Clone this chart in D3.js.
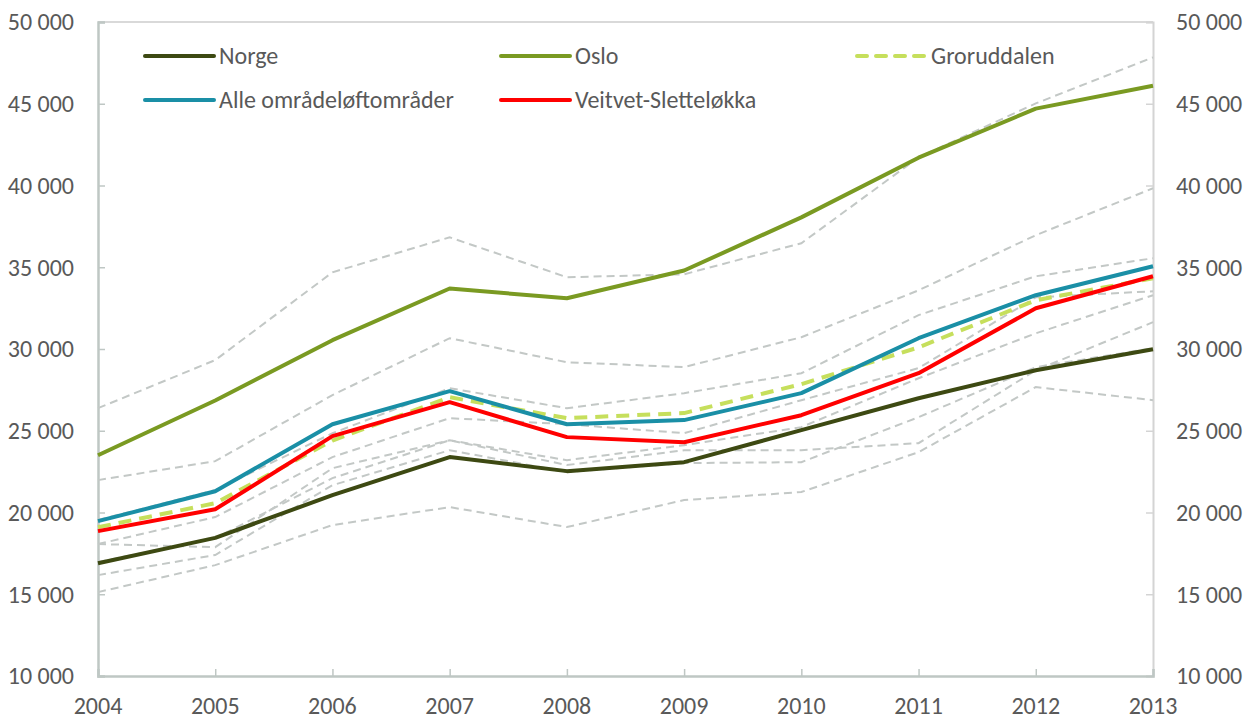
<!DOCTYPE html>
<html>
<head>
<meta charset="utf-8">
<script src="https://cdn.jsdelivr.net/npm/d3@7"></script>
<style>
  body { margin: 0; background: #fff; }
  svg { display: block; font-family: Carlito, "Open Sans", "Liberation Sans", sans-serif; }
  .tick-label { fill: #595959; font-size: 24px; }
  .legend-label { fill: #595959; font-size: 24px; }
</style>
</head>
<body>
<svg id="chart"></svg>
<script>
const width = 1243, height = 717;

// Data
const years = [2004, 2005, 2006, 2007, 2008, 2009, 2010, 2011, 2012, 2013];
const yTicks = [10000, 15000, 20000, 25000, 30000, 35000, 40000, 45000, 50000];

const norge    = [16900, 18450, 21060, 23390, 22530, 23080, 25040, 26990, 28700, 29990];
const oslo     = [23500, 26850, 30540, 33700, 33100, 34800, 38050, 41700, 44700, 46100];
const grorud   = [19100, 20570, 24400, 27050, 25770, 26080, 27850, 30100, 32980, 34330];
const alle     = [19470, 21300, 25400, 27420, 25400, 25650, 27300, 30660, 33290, 35060];
const veitvet  = [18860, 20200, 24670, 26750, 24610, 24300, 25950, 28520, 32490, 34450];

// other areas (grey dashed, unlabelled)
const greyA = [26380, 29320, 34690, 36830, 34390, 34570, 36470, 41720, 45020, 47840];
const greyB = [21980, 23140, 27180, 30660, 29190, 28890, 30720, 33590, 36960, 39830];
const greyC = [19540, 21370, 24850, 27600, 26380, 27300, 28520, 32070, 34450, 35550];
const greyD = [18070, 19720, 23390, 25770, 25400, 24850, 26870, 28830, 33160, 33530];
const greyE = [18070, 17880, 22710, 24420, 23200, 24120, 25220, 28210, 30960, 33290];
const greyF = [16970, 18430, 22100, 24420, 22900, 23810, 23810, 24240, 28700, 31640];
const greyG = [16170, 17400, 21670, 23810, 22470, 23020, 23080, 25830, 28890, 30050];
const greyH = [15130, 16780, 19230, 20330, 19110, 20760, 21250, 23690, 27670, 26870];
const greySeries = [greyA, greyB, greyC, greyD, greyE, greyF, greyG, greyH];

const mainSeries = [
  { name: 'Norge', values: norge, color: '#3d4912', dash: null },
  { name: 'Oslo', values: oslo, color: '#7a9a22', dash: null },
  { name: 'Groruddalen', values: grorud, color: '#c6df5c', dash: '13,8' },
  { name: 'Alle områdeløftområder', values: alle, color: '#1a8fa6', dash: null },
  { name: 'Veitvet-Sletteløkka', values: veitvet, color: '#ff0000', dash: null }
];

const svg = d3.select('#chart').attr('width', width).attr('height', height);

const x = d3.scaleLinear().domain([2004, 2013]).range([98, 1153]);
const y = d3.scaleLinear().domain([10000, 50000]).range([676, 22]);

const nb = d3.formatLocale({ decimal: ',', thousands: '\u00a0', grouping: [3], currency: ['', ' kr'] });
const fmt = nb.format(',d');

// Frame: top border in light grey
svg.append('line').attr('x1', x(2004)).attr('x2', x(2013)).attr('y1', y(50000)).attr('y2', y(50000))
  .attr('stroke', '#d9d9d9').attr('stroke-width', 2);

// Left axis
const leftAxis = svg.append('g').attr('transform', `translate(${x(2004)},0)`)
  .call(d3.axisRight(y).tickValues(yTicks).tickSize(7).tickFormat(''));
leftAxis.select('.domain').attr('stroke', '#bfc7c4').attr('stroke-width', 2.5);
leftAxis.selectAll('.tick line').attr('stroke', '#bfc7c4').attr('stroke-width', 1.5);

// Right axis
const rightAxis = svg.append('g').attr('transform', `translate(${x(2013)},0)`)
  .call(d3.axisLeft(y).tickValues(yTicks).tickSize(7).tickFormat(''));
rightAxis.select('.domain').attr('stroke', '#d4d4d4').attr('stroke-width', 2);
rightAxis.selectAll('.tick line').attr('stroke', '#d4d4d4').attr('stroke-width', 1.5);

// Bottom axis
const bottomAxis = svg.append('g').attr('transform', `translate(0,${y(10000)})`)
  .call(d3.axisTop(x).tickValues(years).tickSize(7).tickFormat(''));
bottomAxis.select('.domain').attr('stroke', '#bfc7c4').attr('stroke-width', 2.5);
bottomAxis.selectAll('.tick line').attr('stroke', '#bfc7c4').attr('stroke-width', 1.5);

// Tick labels
svg.append('g').selectAll('text').data(yTicks).join('text')
  .attr('class', 'tick-label').attr('x', 74).attr('y', d => y(d)).attr('dy', '0.35em')
  .attr('text-anchor', 'end').text(d => fmt(d));
svg.append('g').selectAll('text').data(yTicks).join('text')
  .attr('class', 'tick-label').attr('x', 1176).attr('y', d => y(d)).attr('dy', '0.35em')
  .attr('text-anchor', 'start').text(d => fmt(d));
svg.append('g').selectAll('text').data(years).join('text')
  .attr('class', 'tick-label').attr('x', d => x(d)).attr('y', 714)
  .attr('text-anchor', 'middle').text(d => d);

const line = d3.line().x((d, i) => x(years[i])).y(d => y(d));

// Grey background lines
svg.append('g').selectAll('path').data(greySeries).join('path')
  .attr('d', d => line(d)).attr('fill', 'none')
  .attr('stroke', '#c3c8c6').attr('stroke-width', 2).attr('stroke-dasharray', '8,5');

// Main lines
svg.append('g').selectAll('path').data(mainSeries).join('path')
  .attr('d', d => line(d.values)).attr('fill', 'none')
  .attr('stroke', d => d.color).attr('stroke-width', 4)
  .attr('stroke-dasharray', d => d.dash)
  .attr('stroke-linejoin', 'round');

// Legend
const legendPos = [
  { s: 0, lx: 145, ly: 56 },
  { s: 1, lx: 501, ly: 56 },
  { s: 2, lx: 857, ly: 56 },
  { s: 3, lx: 145, ly: 100 },
  { s: 4, lx: 501, ly: 100 }
];
const legend = svg.append('g').selectAll('g').data(legendPos).join('g')
  .attr('transform', d => `translate(${d.lx},${d.ly})`);
legend.append('line').attr('x1', 0).attr('x2', 69).attr('y1', 0).attr('y2', 0)
  .attr('stroke', d => mainSeries[d.s].color).attr('stroke-width', 4)
  .attr('stroke-linecap', 'round')
  .attr('stroke-dasharray', d => mainSeries[d.s].dash ? '10,9' : null);
legend.append('text').attr('class', 'legend-label').attr('x', 74).attr('y', 0).attr('dy', '0.35em')
  .text(d => mainSeries[d.s].name);
</script>
</body>
</html>
